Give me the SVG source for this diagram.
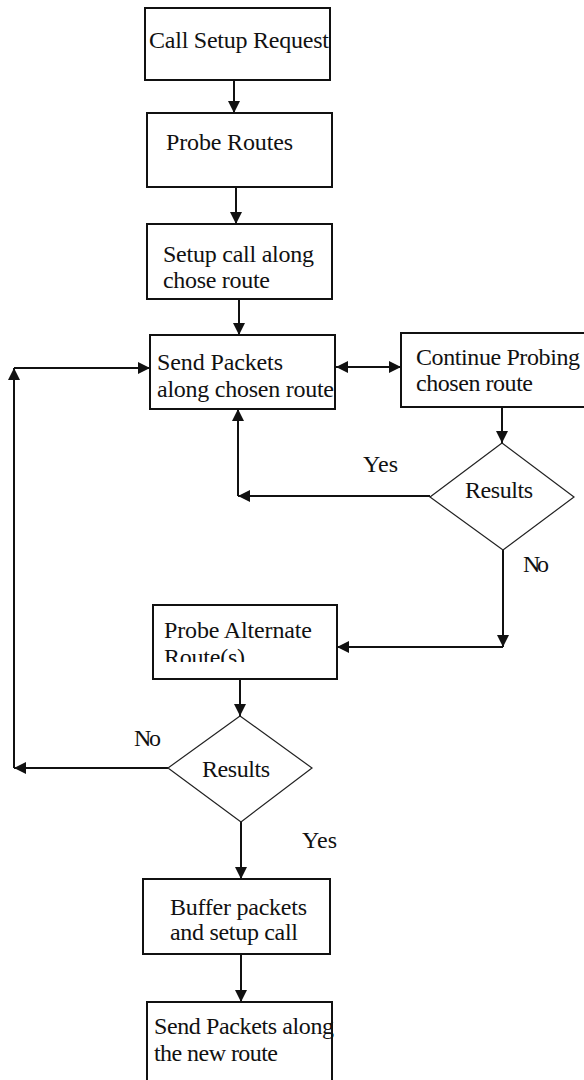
<svg xmlns="http://www.w3.org/2000/svg" width="584" height="1080" viewBox="0 0 584 1080">
<style>
.box{fill:#fff;stroke:#111;stroke-width:2}
.dia{fill:#fff;stroke:#222;stroke-width:1.2}
.t{font-family:"Liberation Serif","Times New Roman",serif;font-size:24px;fill:#111}
.c{fill:none;stroke:#111;stroke-width:2}
</style>
<defs>
<marker id="ah" markerUnits="userSpaceOnUse" markerWidth="12" markerHeight="12" refX="12" refY="6" orient="auto-start-reverse"><path d="M0,0 L12,6 L0,12 z" fill="#111"/></marker>
<clipPath id="clip6"><rect x="150" y="600" width="190" height="62"/></clipPath>
</defs>
<rect width="584" height="1080" fill="#fff"/>
<g id="connectors">
<path class="c" d="M234,80 V113" marker-end="url(#ah)"/>
<path class="c" d="M236,187 V224" marker-end="url(#ah)"/>
<path class="c" d="M239,299 V335" marker-end="url(#ah)"/>
<path class="c" d="M336,367 H401" marker-start="url(#ah)" marker-end="url(#ah)"/>
<path class="c" d="M502,407 V443" marker-end="url(#ah)"/>
<path class="c" d="M430,496 H238" marker-end="url(#ah)"/>
<path class="c" d="M238,496 V409" marker-end="url(#ah)"/>
<path class="c" d="M503,550 V647" marker-end="url(#ah)"/>
<path class="c" d="M503,647 H337" marker-end="url(#ah)"/>
<path class="c" d="M240,679 V716" marker-end="url(#ah)"/>
<path class="c" d="M168,768 H14" marker-end="url(#ah)"/>
<path class="c" d="M14,768 V368" marker-end="url(#ah)"/>
<path class="c" d="M14,368 H150" marker-end="url(#ah)"/>
<path class="c" d="M241,822 V879" marker-end="url(#ah)"/>
<path class="c" d="M241,954 V1002" marker-end="url(#ah)"/>
<text class="t" x="363" y="472" textLength="35" lengthAdjust="spacing">Yes</text>
<text class="t" x="523" y="572" textLength="26" lengthAdjust="spacing">No</text>
<text class="t" x="134" y="746" textLength="27" lengthAdjust="spacing">No</text>
<text class="t" x="302" y="848" textLength="35" lengthAdjust="spacing">Yes</text>
</g>
<g id="n1"><rect class="box" x="145" y="8" width="185" height="72"/>
<text class="t" x="149" y="48" textLength="180" lengthAdjust="spacing">Call Setup Request</text></g>
<g id="n2"><rect class="box" x="147" y="113" width="185" height="74"/>
<text class="t" x="166" y="150" textLength="127" lengthAdjust="spacing">Probe Routes</text></g>
<g id="n3"><rect class="box" x="147" y="224" width="185" height="75"/>
<text class="t" x="163" y="262" textLength="151" lengthAdjust="spacing">Setup call along</text>
<text class="t" x="163" y="288" textLength="107" lengthAdjust="spacing">chose route</text></g>
<g id="n4"><rect class="box" x="150" y="335" width="185" height="74"/>
<text class="t" x="157" y="370" textLength="126" lengthAdjust="spacing">Send Packets</text>
<text class="t" x="157" y="397" textLength="177" lengthAdjust="spacing">along chosen route</text></g>
<g id="n5"><rect class="box" x="401" y="333" width="200" height="74"/>
<text class="t" x="416" y="365" textLength="164" lengthAdjust="spacing">Continue Probing</text>
<text class="t" x="416" y="391" textLength="117" lengthAdjust="spacing">chosen route</text></g>
<g id="d1"><polygon class="dia" points="502,443 574,497 503,550 430,497"/>
<text class="t" x="465" y="498" textLength="68" lengthAdjust="spacing">Results</text></g>
<g id="n6"><rect class="box" x="153" y="605" width="184" height="74"/>
<g clip-path="url(#clip6)">
<text class="t" x="164" y="638" textLength="148" lengthAdjust="spacing">Probe Alternate</text>
<text class="t" x="164" y="665" textLength="81" lengthAdjust="spacing">Route(s)</text></g></g>
<g id="d2"><polygon class="dia" points="240,716 312,768 241,822 168,768"/>
<text class="t" x="202" y="777" textLength="68" lengthAdjust="spacing">Results</text></g>
<g id="n7"><rect class="box" x="143" y="879" width="187" height="75"/>
<text class="t" x="170" y="915" textLength="137" lengthAdjust="spacing">Buffer packets</text>
<text class="t" x="170" y="940" textLength="128" lengthAdjust="spacing">and setup call</text></g>
<g id="n8"><rect class="box" x="147" y="1002" width="185" height="90"/>
<text class="t" x="154" y="1034" textLength="180" lengthAdjust="spacing">Send Packets along</text>
<text class="t" x="154" y="1061" textLength="124" lengthAdjust="spacing">the new route</text></g>
</svg>
